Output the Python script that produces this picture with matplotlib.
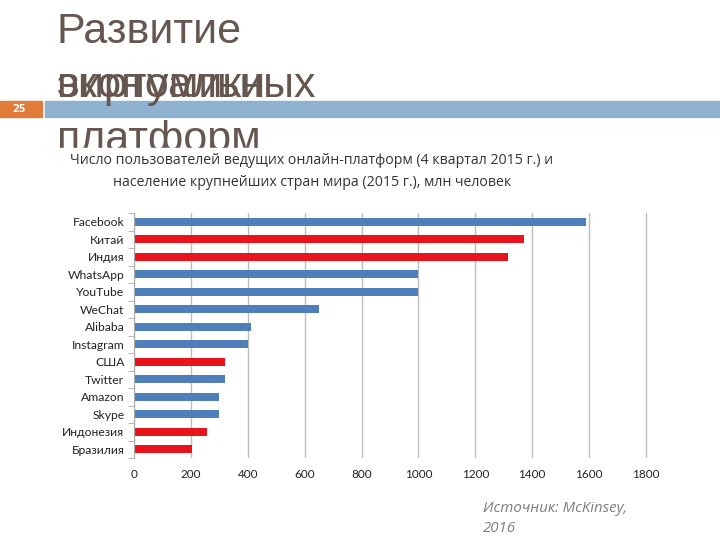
import matplotlib.pyplot as plt
from matplotlib.patches import Rectangle

W, H = 720, 540

# chart data (mln people)
names = ["Facebook", "Китай", "Индия", "WhatsApp", "YouTube", "WeChat", "Alibaba",
         "Instagram", "США", "Twitter", "Amazon", "Skype", "Индонезия", "Бразилия"]
users = [1590, 1370, 1315, 1000, 1000, 650, 410, 400, 320, 320, 300, 300, 255, 205]
is_country = [0, 1, 1, 0, 0, 0, 0, 0, 1, 0, 0, 0, 1, 1]
xticks = [0, 200, 400, 600, 800, 1000, 1200, 1400, 1600, 1800]

BLUE = "#4f7fbb"
RED = "#e8131b"

def fx(px):  # pixel x -> figure fraction
    return px / W

def fy(py):  # pixel y (from top) -> figure fraction
    return 1 - py / H

fig = plt.figure(figsize=(7.2, 5.4), dpi=100)

##########################################################
# SLIDE DECORATION
##########################################################
title_color = "#665650"
title_kw = dict(fontsize=31, color=title_color, family="Liberation Sans",
                va="baseline", zorder=1)
fig.text(fx(57), fy(43), "Развитие", **title_kw)
fig.text(fx(57), fy(97), "экономики", **title_kw)
fig.text(fx(57), fy(97), "виртуальных", **title_kw)
fig.text(fx(57), fy(151), "платформ", **title_kw)

# header strip and page number
fig.patches.append(Rectangle((fx(45), fy(117)), fx(675), 16 / H,
                             transform=fig.transFigure, color="#8fb2d1", zorder=0.5))
fig.patches.append(Rectangle((fx(0), fy(117)), fx(42), 16 / H,
                             transform=fig.transFigure, color="#e07b39", zorder=0.5))
fig.text(fx(19), fy(109), "25", fontsize=7, color="white", weight="bold",
         ha="center", va="center", zorder=3)

# the chart picture covers the bottom of the title
fig.patches.append(Rectangle((fx(60), fy(200)), fx(600), 52 / H,
                             transform=fig.transFigure, color="white", zorder=2))

sub_kw = dict(fontsize=10.2, color="#333333", family="Open Sans", ha="center",
              va="center", zorder=3)
fig.text(fx(312), fy(160), "Число пользователей ведущих онлайн-платформ (4 квартал 2015 г.) и",
         **sub_kw)
fig.text(fx(312), fy(182), "население крупнейших стран мира (2015 г.), млн человек", **sub_kw)

##########################################################
# BAR CHART
##########################################################
XMAX = 1810  # a little room so the 1800 grid line is not clipped
ax = fig.add_axes([fx(134), fy(458), fx(512 * XMAX / 1800), (458 - 213) / H])
ax.set_zorder(0)

colors = [RED if c else BLUE for c in is_country]
ax.barh(range(len(names)), users, height=0.45, color=colors, zorder=2)

ax.set_xlim(0, XMAX)
ax.set_ylim(len(names) - 0.5, -0.5)
ax.set_xticks(xticks)
ax.set_xticklabels([str(t) for t in xticks], fontsize=8.5, family="Lato", color="#222222")
ax.set_yticks(range(len(names)))
ax.set_yticklabels(names, fontsize=8.7, family="Lato", color="#222222")
ax.set_yticks([i + 0.5 for i in range(-1, len(names))], minor=True)

ax.grid(axis="x", color="#bdbdbd", linewidth=1, zorder=1)
ax.tick_params(axis="y", which="major", length=0, pad=7)
ax.tick_params(axis="y", which="minor", length=4, color="#aaaaaa", direction="out")
ax.tick_params(axis="x", length=0, pad=8)

for s in ["top", "right", "bottom"]:
    ax.spines[s].set_visible(False)
ax.spines["left"].set_color("#aaaaaa")

##########################################################
# SOURCE NOTE
##########################################################
fig.text(fx(483), fy(508), "Источник: McKinsey,", fontsize=10.8, style="italic",
         color="#7f7f7f", family="Open Sans", va="center")
fig.text(fx(483), fy(528), "2016", fontsize=10.8, style="italic",
         color="#7f7f7f", family="Open Sans", va="center")

fig.savefig("out.png", dpi=100)
